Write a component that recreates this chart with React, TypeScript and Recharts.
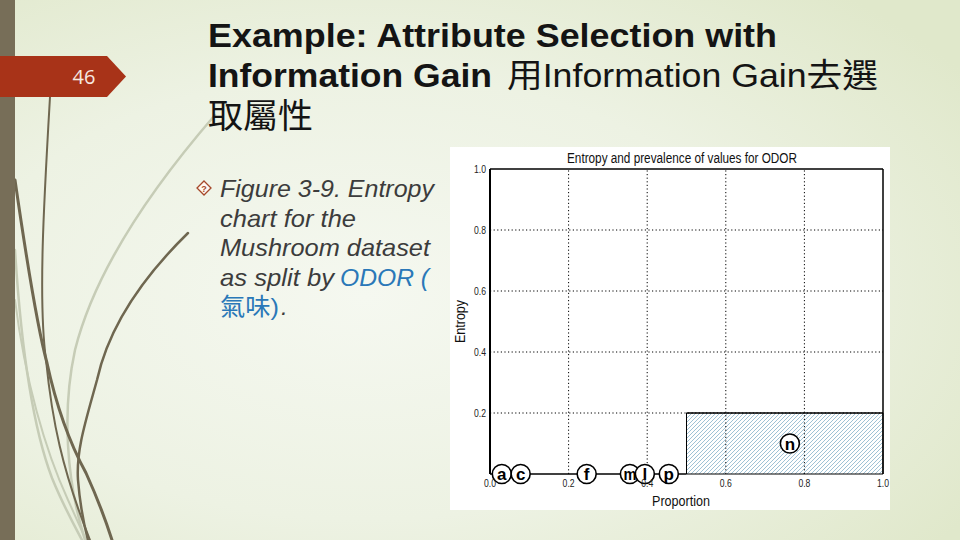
import React from 'react';
import { ComposedChart, XAxis, YAxis, ReferenceArea, ReferenceLine, Scatter } from 'recharts';

// ---- data ----
const xTicks = [0, 0.2, 0.4, 0.6, 0.8, 1.0];
const yTicks = [0.2, 0.4, 0.6, 0.8, 1.0];
const xGrid = [0.2, 0.4, 0.6, 0.8];
const yGrid = [0.2, 0.4, 0.6, 0.8];
// segments of the entropy chart (proportion interval, entropy)
const segmentNames = ['a-c-f-m-l-p', 'n'];
const segmentStart = [0, 0.5];
const segmentEnd = [0.5, 1.0];
const segmentEntropy = [0, 0.2];
// odor value markers
const odorLabels = ['a', 'c', 'f', 'm', 'l', 'p', 'n'];
const labelX = [0.03, 0.078, 0.246, 0.356, 0.394, 0.455, 0.763];
const labelY = [0, 0, 0, 0, 0, 0, 0.1];

const markerData = odorLabels.map((name, i) => ({ name, x: labelX[i], y: labelY[i] }));

const FONT = "'Liberation Sans', Arial, sans-serif";
const CJK = "'Liberation Sans', Arial, 'Noto Sans CJK TC', sans-serif";

const XTick = (props: any) => {
  const { x, y, payload } = props;
  return (
    <text x={x} y={y} dy={8} textAnchor="middle" fontSize={11} fontFamily={FONT} fill="#222"
      textLength={12} lengthAdjust="spacingAndGlyphs">
      {Number(payload.value).toFixed(1)}
    </text>
  );
};

const YTick = (props: any) => {
  const { x, y, payload } = props;
  return (
    <text x={x} y={y} dy={4} textAnchor="end" fontSize={11} fontFamily={FONT} fill="#222"
      textLength={12} lengthAdjust="spacingAndGlyphs">
      {Number(payload.value).toFixed(1)}
    </text>
  );
};

const Marker = (props: any) => {
  const { cx, cy, payload } = props;
  const wide = payload.name === 'm';
  return (
    <g>
      <circle cx={cx} cy={cy} r={9.5} fill="#fff" stroke="#000" strokeWidth={1.6} />
      <text x={cx} y={cy} dy={6} textAnchor="middle" fontSize={17} fontWeight="bold" fontFamily={FONT} fill="#000"
        {...(wide ? { textLength: 13, lengthAdjust: 'spacingAndGlyphs' } : {})}>
        {payload.name}
      </text>
    </g>
  );
};

export default function App() {
  const dark = '#6f6750';
  const light = '#c6ccb6';
  return (
    <div style={{ position: 'absolute', left: 0, top: 0, width: 960, height: 540, overflow: 'hidden' }}>
      <svg width={960} height={540} style={{ position: 'absolute', left: 0, top: 0 }}>
        <defs>
          <radialGradient id="bg" cx="38%" cy="55%" r="75%">
            <stop offset="0%" stopColor="#f5f8f0" />
            <stop offset="55%" stopColor="#edf2e3" />
            <stop offset="100%" stopColor="#e0e8cb" />
          </radialGradient>
          <pattern id="hatchN" patternUnits="userSpaceOnUse" width={4} height={4}>
            <path d="M-1,1 l2,-2 M0,4 l4,-4 M3,5 l2,-2" stroke="#86b2ca" strokeWidth={0.8} />
          </pattern>
        </defs>
        <rect x={0} y={0} width={960} height={540} fill="url(#bg)" />
        {/* decorative strokes */}
        <g fill="none" strokeLinecap="round">
          <path d="M215,115 C150,190 95,270 75,350 C62,410 66,480 85,540" stroke={light} strokeWidth={2.5} />
          <path d="M15,250 C20,330 30,420 52,478 C63,505 74,525 82,540" stroke={light} strokeWidth={2.5} />
          <path d="M15,300 C25,380 45,450 68,500 L86,540" stroke={light} strokeWidth={2} />
          <path d="M50,97 C44,200 38,300 46,360 C52,420 62,470 90,540" stroke={dark} strokeWidth={2} />
          <path d="M15,180 C28,270 38,330 47,363 C55,400 68,440 86,473 C96,495 104,515 112,540" stroke={dark} strokeWidth={3} />
          <path d="M188,233 C140,280 108,330 97,380 C86,420 76,450 78,480 C80,505 84,525 88,540" stroke={dark} strokeWidth={2.5} />
        </g>
        <rect x={0} y={0} width={15} height={540} fill="#776e58" />
        <polygon points="0,56 107,56 126,76.5 107,97 0,97" fill="#a83318" />
      </svg>

      <div style={{ position: 'absolute', left: 450, top: 147, width: 440, height: 363, background: '#fff' }}>
        <ComposedChart width={440} height={363} margin={{ top: 22, right: 7, bottom: 0, left: 0 }}>
          <XAxis type="number" dataKey="x" domain={[0, 1]} ticks={xTicks} axisLine={false} tickLine={false}
            tickSize={0} tickMargin={5} height={36} tick={<XTick />} interval={0} />
          <YAxis type="number" dataKey="y" domain={[0, 1]} ticks={yTicks} axisLine={{ stroke: '#000', strokeWidth: 2 }}
            tickLine={false} tickSize={0} tickMargin={4} width={40} tick={<YTick />} interval={0} />
          {segmentNames.map((name, i) =>
            segmentEntropy[i] > 0 ? (
              <ReferenceArea key={name} x1={segmentStart[i]} x2={segmentEnd[i]} y1={0} y2={segmentEntropy[i]}
                fill="url(#hatchN)" fillOpacity={1} stroke="#000" strokeWidth={1} />
            ) : null
          )}
          {xGrid.map((v) => (
            <ReferenceLine key={'gx' + v} x={v} stroke="#000" strokeWidth={1} strokeDasharray="1.2 2.4" />
          ))}
          {yGrid.map((v) => (
            <ReferenceLine key={'gy' + v} y={v} stroke="#000" strokeWidth={1} strokeDasharray="1.2 2.4" />
          ))}
          {segmentNames.map((name, i) =>
            segmentEntropy[i] > 0 ? (
              <ReferenceLine key={name + 'top'} segment={[{ x: segmentStart[i], y: segmentEntropy[i] }, { x: segmentEnd[i], y: segmentEntropy[i] }]}
                stroke="#000" strokeWidth={1} />
            ) : (
              <ReferenceLine key={name} segment={[{ x: segmentStart[i], y: 0 }, { x: segmentEnd[i], y: 0 }]}
                stroke="#000" strokeWidth={1.5} />
            )
          )}
          <ReferenceLine y={1} stroke="#000" strokeWidth={1.5} />
          <ReferenceLine x={1} stroke="#000" strokeWidth={1.5} />
          <Scatter data={markerData} dataKey="y" shape={<Marker />} isAnimationActive={false} />
        </ComposedChart>
      </div>

      <svg width={960} height={540} style={{ position: 'absolute', left: 0, top: 0, pointerEvents: 'none' }}>
        {/* slide number */}
        <text x={84} y={84} textAnchor="middle" fontSize={20} fontFamily="'Open Sans', sans-serif" fill="#f6e9e2">46</text>
        {/* title */}
        <text x={208} y={47} fontSize={33} fontWeight="bold" fontFamily={FONT} fill="#141414"
          textLength={569} lengthAdjust="spacingAndGlyphs">Example: Attribute Selection with</text>
        <text x={208} y={87} fontSize={33} fontWeight="bold" fontFamily={FONT} fill="#141414"
          textLength={284} lengthAdjust="spacingAndGlyphs">Information Gain</text>
        <text x={507} y={87} fontSize={33} fontFamily={CJK} fill="#141414"
          textLength={371} lengthAdjust="spacingAndGlyphs">用Information Gain去選</text>
        <text x={208} y={128} fontSize={34} fontFamily="'Noto Sans CJK TC', sans-serif" fill="#141414"
          textLength={105} lengthAdjust="spacingAndGlyphs">取屬性</text>
        {/* bullet */}
        <g transform="translate(204,188)">
          <polygon points="0,-7 7,0 0,7 -7,0" fill="#fff8f0" stroke="#a5482a" strokeWidth={1.3} />
          <text x={0} y={3.5} textAnchor="middle" fontSize={9} fontWeight="bold" fontFamily={FONT} fill="#a5482a">?</text>
        </g>
        <g fontSize={24} fontStyle="italic" fontFamily={CJK} fill="#3c3c3c">
          <text x={220} y={197} textLength={214} lengthAdjust="spacingAndGlyphs">Figure 3-9. Entropy</text>
          <text x={220} y={227} textLength={136} lengthAdjust="spacingAndGlyphs">chart for the</text>
          <text x={220} y={256} textLength={210} lengthAdjust="spacingAndGlyphs">Mushroom dataset</text>
          <text x={220} y={286} textLength={114} lengthAdjust="spacingAndGlyphs">as split by</text>
          <text x={340} y={286} fill="#2a78b8" textLength={89} lengthAdjust="spacingAndGlyphs">ODOR (</text>
          <text x={220} y={315} fill="#2a78b8" fontStyle="normal" textLength={59} lengthAdjust="spacingAndGlyphs">氣味)</text>
          <text x={281} y={315}>.</text>
        </g>
        {/* chart texts */}
        <text x={567} y={163} fontSize={14} fontFamily={FONT} fill="#111" textLength={230} lengthAdjust="spacingAndGlyphs">
          Entropy and prevalence of values for ODOR
        </text>
        <text transform="translate(465,343) rotate(-90)" x={0} y={0} fontSize={14} fontFamily={FONT} fill="#111"
          textLength={43} lengthAdjust="spacingAndGlyphs">Entropy</text>
        <text x={652} y={506} fontSize={15} fontFamily={FONT} fill="#111" textLength={58} lengthAdjust="spacingAndGlyphs">
          Proportion
        </text>
      </svg>
    </div>
  );
}
